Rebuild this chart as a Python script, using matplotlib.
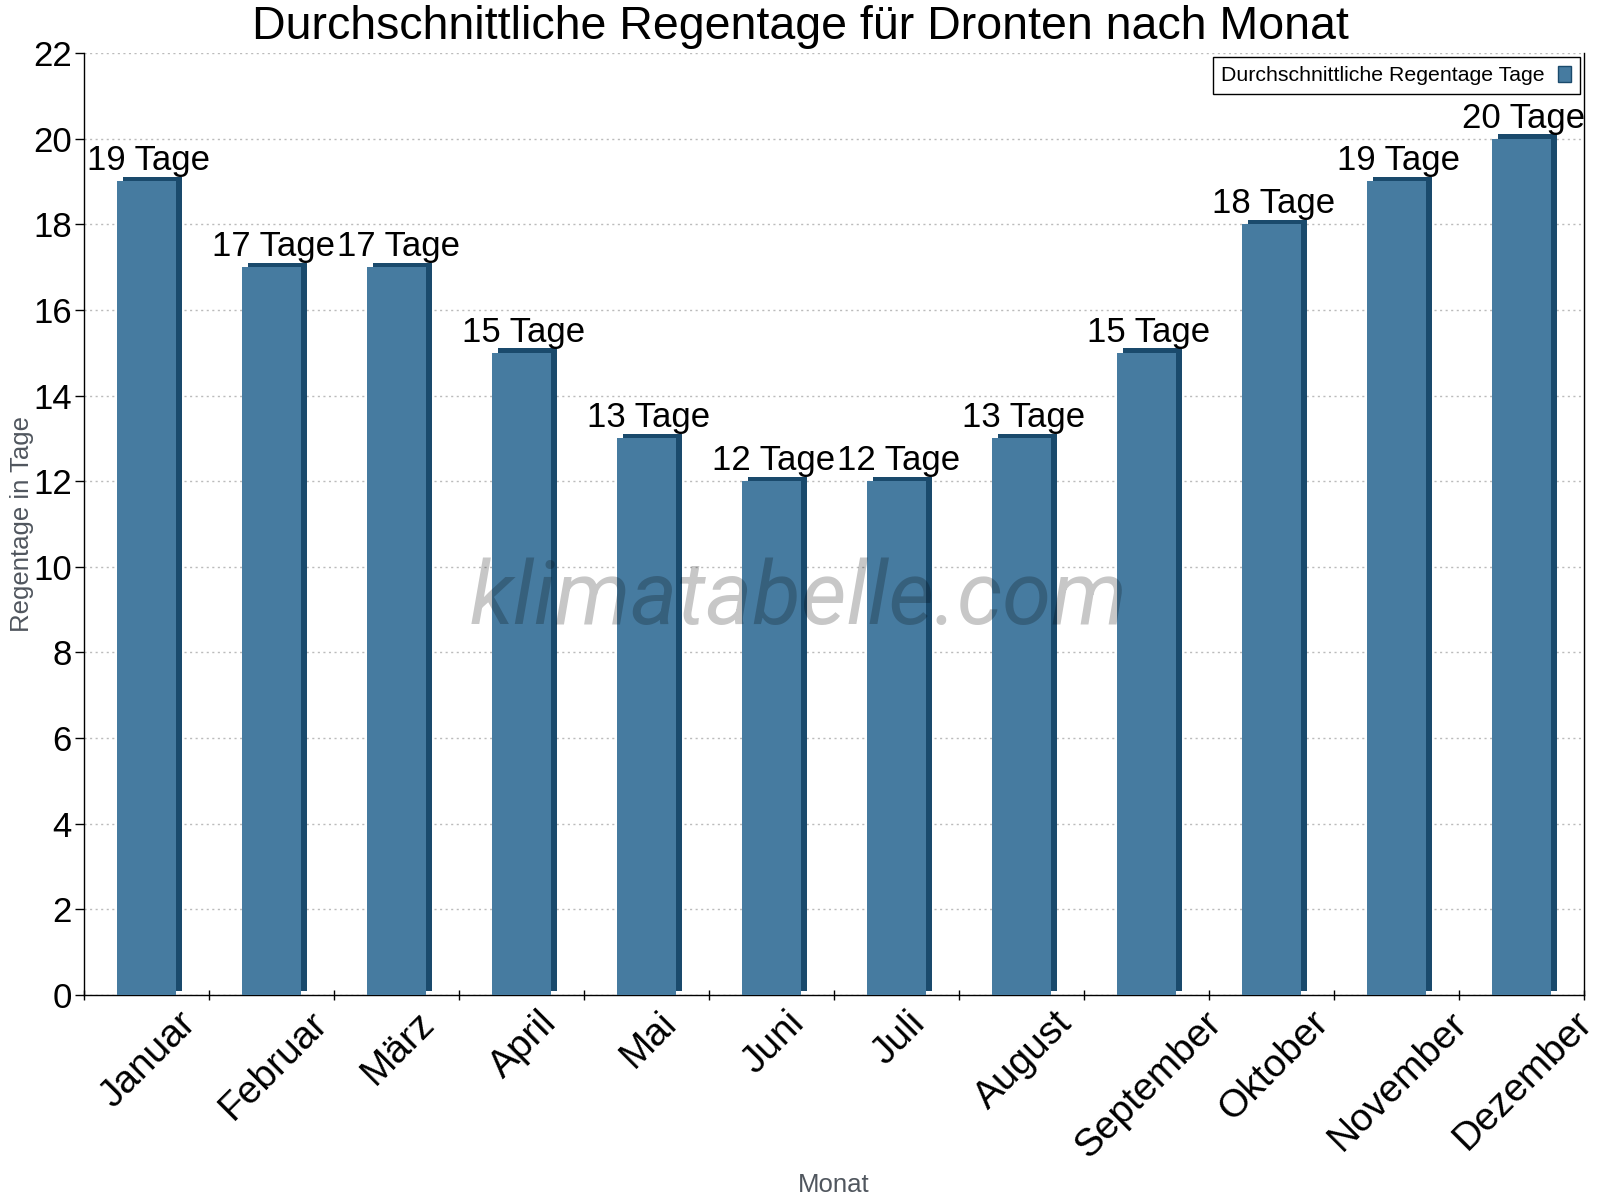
import matplotlib.pyplot as plt
from matplotlib.patches import Patch
from matplotlib.transforms import ScaledTranslation
import numpy as np

### data
months = ['Januar', 'Februar', 'März', 'April', 'Mai', 'Juni', 'Juli',
          'August', 'September', 'Oktober', 'November', 'Dezember']
rain_days = [19, 17, 17, 15, 13, 12, 12, 13, 15, 18, 19, 20]
bar_labels = [str(v) + ' Tage' for v in rain_days]
yticks = list(range(0, 23, 2))

title = 'Durchschnittliche Regentage für Dronten nach Monat'
series_name = 'Durchschnittliche Regentage Tage'

front = '#467ba0'
side = '#1a4a6c'
gray = '#50565e'

plt.rcParams['font.family'] = ['Liberation Sans', 'DejaVu Sans']

fig = plt.figure(figsize=(16, 12), dpi=100)
ax = fig.add_axes([0.0527, 0.1708, 0.9373, 0.785])

x = np.arange(len(months))

# fake 3d: dark copy shifted up/right behind the front face
depth = ScaledTranslation(6 / 100, 4.5 / 100, fig.dpi_scale_trans)
ax.bar(x, rain_days, width=0.47, color=side, transform=ax.transData + depth, zorder=2)
ax.bar(x, rain_days, width=0.47, color=front, zorder=3)

for xi, v, lbl in zip(x, rain_days, bar_labels):
    ax.annotate(lbl, (xi, v), xytext=(1.5, 8), textcoords='offset points',
                ha='center', va='baseline', fontsize=25, zorder=5)

ax.set_xlim(-0.5, 11.5)
ax.set_ylim(0, 22)
ax.set_yticks(yticks)

# ticks between the months, labels centred under the bars
ax.set_xticks(np.arange(-0.5, 12, 1.0))
ax.set_xticklabels([])
ax.set_xticks(x, minor=True)
ax.set_xticklabels(months, minor=True, rotation=45, ha='center', va='top', fontsize=28)
ax.tick_params(axis='x', which='major', direction='inout', length=7, width=1)
ax.tick_params(axis='x', which='minor', length=0, pad=7)
ax.tick_params(axis='y', direction='out', length=6.5, width=1, labelsize=25, pad=2.5)
shift = ScaledTranslation(2 / 100, 0, fig.dpi_scale_trans)
for t in ax.get_xticklabels(minor=True):
    t.set_transform(t.get_transform() + shift)

ax.yaxis.grid(True, linestyle=(0, (1.5, 2.5)), color='#bbbbbb', linewidth=1, zorder=0)
ax.set_axisbelow(True)
ax.spines['top'].set_visible(False)
for s in ['left', 'bottom', 'right']:
    ax.spines[s].set_linewidth(1)

ax.set_ylabel('Regentage in Tage', fontsize=18.5, color=gray, va='center')
ax.yaxis.set_label_coords(-0.0415, 0.5)
ax.set_xlabel('Monat', fontsize=18.5, color=gray, va='center')
ax.xaxis.set_label_coords(0.5, -0.2015)

leg = ax.legend([Patch(facecolor=front, edgecolor=side)], [series_name],
                loc='upper right', fontsize=15.3, markerfirst=False, fancybox=False,
                edgecolor='black', framealpha=1, handlelength=0.62, handleheight=0.8,
                borderaxespad=0.2, handletextpad=0.62, borderpad=0.4)
leg.get_frame().set_linewidth(1)

fig.text(0.5, 1 - 39 / 1200, title, ha='center', va='baseline', fontsize=33.5)

# watermark
fig.text(0.499, 1 - 624 / 1200, 'klimatabelle.com', ha='center', va='baseline',
         fontsize=64, family=['Roboto', 'Liberation Sans'], weight='normal',
         style='italic', color='black', alpha=0.22, zorder=10)

fig.savefig('out.png', dpi=100)
